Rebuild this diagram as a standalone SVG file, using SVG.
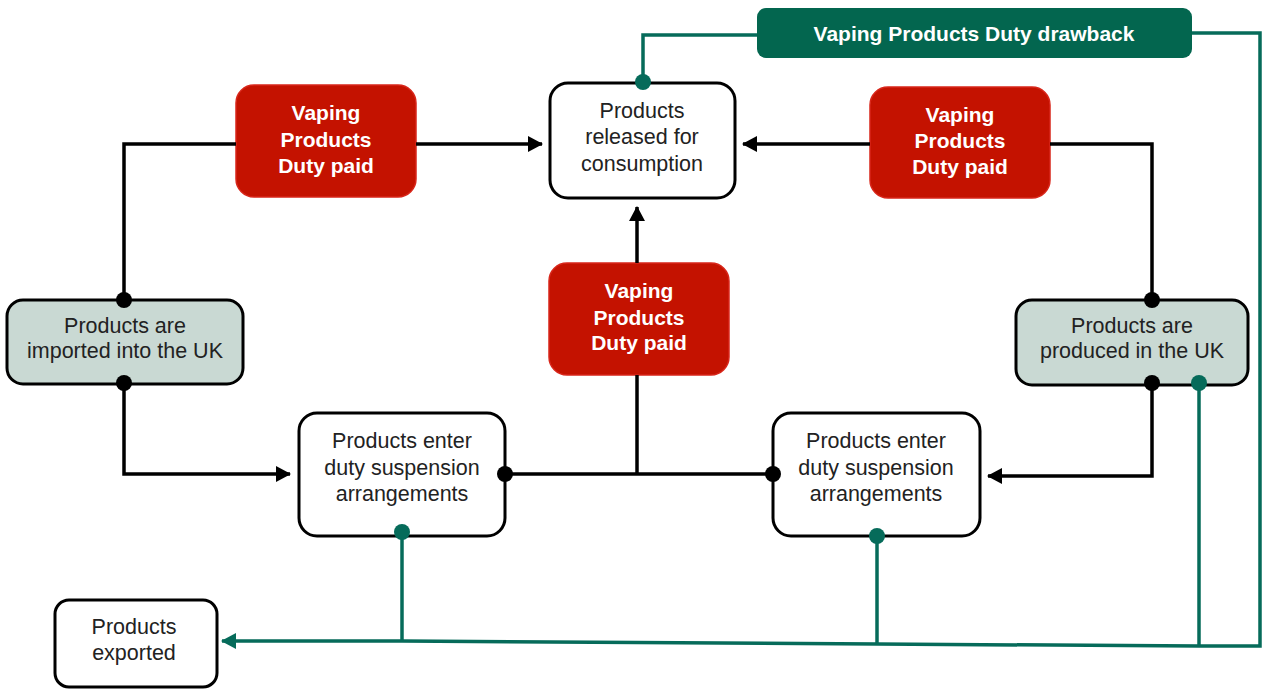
<svg xmlns="http://www.w3.org/2000/svg" width="1264" height="689" viewBox="0 0 1264 689">
<style>
.box{fill:#fff;stroke:#000;stroke-width:3}
.grey{fill:#c9d9d3;stroke:#000;stroke-width:3}
.red{fill:#c41200;stroke:#d8261a;stroke-width:1.5}
.teal{fill:#03664f}
.t{font-family:"Liberation Sans",Arial,sans-serif;font-size:21.5px;fill:#222;text-anchor:middle}
.tb{font-family:"Liberation Sans",Arial,sans-serif;font-size:21px;font-weight:bold;fill:#fff;text-anchor:middle}
.k{fill:none;stroke:#000;stroke-width:3.5}
.g{fill:none;stroke:#066b5a;stroke-width:3.5}
.dk{fill:#000}
.dg{fill:#066b5a}
</style>
<defs>
<marker id="ak" markerUnits="userSpaceOnUse" markerWidth="16" markerHeight="16" refX="14" refY="8" orient="auto"><path d="M0,0 L15,8 L0,16 Z" fill="#000"/></marker>
<marker id="ag" markerUnits="userSpaceOnUse" markerWidth="16" markerHeight="16" refX="14" refY="8" orient="auto"><path d="M0,0 L15,8 L0,16 Z" fill="#066b5a"/></marker>
</defs>
<g id="drawback">
<rect class="teal" x="757" y="8" width="435" height="50" rx="9"/>
<text class="tb" x="974" y="41">Vaping Products Duty drawback</text>
</g>
<g id="released">
<rect class="box" x="550" y="83" width="185" height="115" rx="18"/>
<text class="t" x="642" y="118">Products</text>
<text class="t" x="642" y="144">released for</text>
<text class="t" x="642" y="171">consumption</text>
</g>
<g id="duty-left">
<rect class="red" x="236" y="85" width="180" height="112" rx="18"/>
<text class="tb" x="326" y="120">Vaping</text>
<text class="tb" x="326" y="147">Products</text>
<text class="tb" x="326" y="173">Duty paid</text>
</g>
<g id="duty-right">
<rect class="red" x="870" y="87" width="180" height="111" rx="18"/>
<text class="tb" x="960" y="122">Vaping</text>
<text class="tb" x="960" y="148">Products</text>
<text class="tb" x="960" y="174">Duty paid</text>
</g>
<g id="duty-centre">
<rect class="red" x="549" y="263" width="180" height="112" rx="18"/>
<text class="tb" x="639" y="298">Vaping</text>
<text class="tb" x="639" y="325">Products</text>
<text class="tb" x="639" y="350">Duty paid</text>
</g>
<g id="imported">
<rect class="grey" x="7" y="300" width="236" height="84" rx="16"/>
<text class="t" x="125" y="333">Products are</text>
<text class="t" x="125" y="358">imported into the UK</text>
</g>
<g id="produced">
<rect class="grey" x="1016" y="300" width="232" height="85" rx="16"/>
<text class="t" x="1132" y="333">Products are</text>
<text class="t" x="1132" y="358">produced in the UK</text>
</g>
<g id="suspension-left">
<rect class="box" x="299" y="413" width="206" height="123" rx="18"/>
<text class="t" x="402" y="448">Products enter</text>
<text class="t" x="402" y="475">duty suspension</text>
<text class="t" x="402" y="501">arrangements</text>
</g>
<g id="suspension-right">
<rect class="box" x="773" y="413" width="207" height="123" rx="18"/>
<text class="t" x="876" y="448">Products enter</text>
<text class="t" x="876" y="475">duty suspension</text>
<text class="t" x="876" y="501">arrangements</text>
</g>
<g id="exported">
<rect class="box" x="55" y="600" width="162" height="87" rx="14"/>
<text class="t" x="134" y="634">Products</text>
<text class="t" x="134" y="660">exported</text>
</g>
<g id="connectors">
<polyline class="k" points="124,300 124,144 236,144"/>
<polyline class="k" points="416,144 542,144" marker-end="url(#ak)"/>
<polyline class="k" points="124,384 124,474 290,474" marker-end="url(#ak)"/>
<polyline class="k" points="505,474 773,474"/>
<polyline class="k" points="637,474 637,375"/>
<polyline class="k" points="637,263 637,207" marker-end="url(#ak)"/>
<polyline class="k" points="1152,300 1152,144 1050,144"/>
<polyline class="k" points="870,144 743,144" marker-end="url(#ak)"/>
<polyline class="k" points="1152,385 1152,476 988,476" marker-end="url(#ak)"/>
<polyline class="g" points="643,83 643,35 757,35"/>
<polyline class="g" points="1192,33 1260,33 1260,646 1199,646 877,644 402,641 222,641" marker-end="url(#ag)"/>
<polyline class="g" points="402,536 402,641"/>
<polyline class="g" points="877,536 877,644"/>
<polyline class="g" points="1199,385 1199,646"/>
<circle class="dk" cx="124" cy="300" r="8"/>
<circle class="dk" cx="124" cy="383" r="8"/>
<circle class="dk" cx="505" cy="474" r="8"/>
<circle class="dk" cx="773" cy="474" r="8"/>
<circle class="dk" cx="1152" cy="300" r="8"/>
<circle class="dk" cx="1152" cy="383" r="8"/>
<circle class="dg" cx="643" cy="82" r="8"/>
<circle class="dg" cx="402" cy="532" r="8"/>
<circle class="dg" cx="877" cy="536" r="8"/>
<circle class="dg" cx="1199" cy="383" r="8"/>
</g>
</svg>
